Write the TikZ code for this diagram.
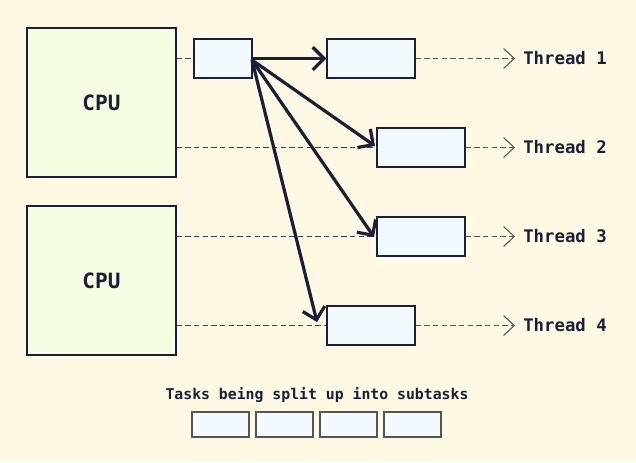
\documentclass[tikz,border=0pt]{standalone}
\usepackage{fontspec}
\newfontfamily\monob{DejaVu Sans Mono}
\usetikzlibrary{arrows.meta}
\definecolor{bg}{HTML}{FEF8E5}
\definecolor{cpufill}{HTML}{F5FDE3}
\definecolor{taskfill}{HTML}{F2F9FF}
\definecolor{ink}{HTML}{1B1F36}
\definecolor{dashc}{HTML}{555555}
\tikzset{
  cpubox/.style={draw=ink, line width=1.1pt, fill=cpufill, minimum width=111.75pt, minimum height=111.75pt, inner sep=0pt, font=\monob\bfseries\fontsize{15.8}{18}\selectfont, text=ink},
  taskbox/.style={draw=ink, line width=1.1pt, fill=taskfill, minimum width=66pt, minimum height=29.25pt, inner sep=0pt},
  srcbox/.style={taskbox, minimum width=43.5pt},
  subbox/.style={draw=dashc, line width=1.1pt, fill=taskfill, minimum width=42.75pt, minimum height=18.75pt, inner sep=0pt},
  dashline/.style={draw=ink!85, line width=0.8pt, dash pattern=on 4pt off 2.5pt},
  dasharrow/.style={draw=dashc, line width=0.8pt, dash pattern=on 4pt off 2.5pt, -{Straight Barb[length=8pt,width=15pt,line width=0.8pt]}},
  bigarrow/.style={draw=ink, line width=2.4pt, -{Straight Barb[length=8.5pt,width=17pt]}},
  thlabel/.style={anchor=west, inner xsep=6pt, inner ysep=0pt, font=\monob\bfseries\fontsize{13}{15}\selectfont, text=ink},
}
\begin{document}
\begin{tikzpicture}[x=0.75pt,y=-0.75pt]
\fill[bg] (0,0) rectangle (636,462);
\useasboundingbox (0,0) rectangle (636,462);
% CPUs
\node[cpubox] (cpu1) at (101.5,102.5) {CPU};
\node[cpubox] (cpu2) at (101.5,280.5) {CPU};
% boxes
\node[srcbox] (A) at (223,58.5) {};
\node[taskbox] (T1) at (371,58.5) {};
\node[taskbox] (T2) at (421,147.5) {};
\node[taskbox] (T3) at (421,236.5) {};
\node[taskbox] (T4) at (371,325.5) {};
% labels
\node[thlabel] (L1) at (515,58.5) {Thread 1};
\node[thlabel] (L2) at (515,147.5) {Thread 2};
\node[thlabel] (L3) at (515,236.5) {Thread 3};
\node[thlabel] (L4) at (515,325.5) {Thread 4};
% dashed lines from CPUs
\draw[dashline] (cpu1.east |- A.west) -- (A.west);
\draw[dashline] (cpu1.east |- T2.west) -- (T2.west);
\draw[dashline] (cpu2.east |- T3.west) -- (T3.west);
\draw[dashline] (cpu2.east |- T4.west) -- (T4.west);
% dashed arrows to labels
\draw[dasharrow] (T1.east) -- (L1.west);
\draw[dasharrow] (T2.east) -- (L2.west);
\draw[dasharrow] (T3.east) -- (L3.west);
\draw[dasharrow] (T4.east) -- (L4.west);
% big arrows
\coordinate (s) at (252,60);
\coordinate (t2) at (375,146);
\coordinate (t3) at (374,237);
\coordinate (t4) at (317,322);
\draw[bigarrow] (A.east) -- (T1.west);
\draw[bigarrow] (s) -- (t2);
\draw[bigarrow] (s) -- (t3);
\draw[bigarrow] (s) -- (t4);
% bottom
\node[font=\monob\bfseries\fontsize{11.1}{13}\selectfont, text=ink, inner sep=0pt] (cap) at (317,395) {Tasks being split up into subtasks};
\node[subbox] (b1) at (220.5,424.5) {};
\node[subbox] (b2) at (284.5,424.5) {};
\node[subbox] (b3) at (348.5,424.5) {};
\node[subbox] (b4) at (412.5,424.5) {};
\end{tikzpicture}
\end{document}
